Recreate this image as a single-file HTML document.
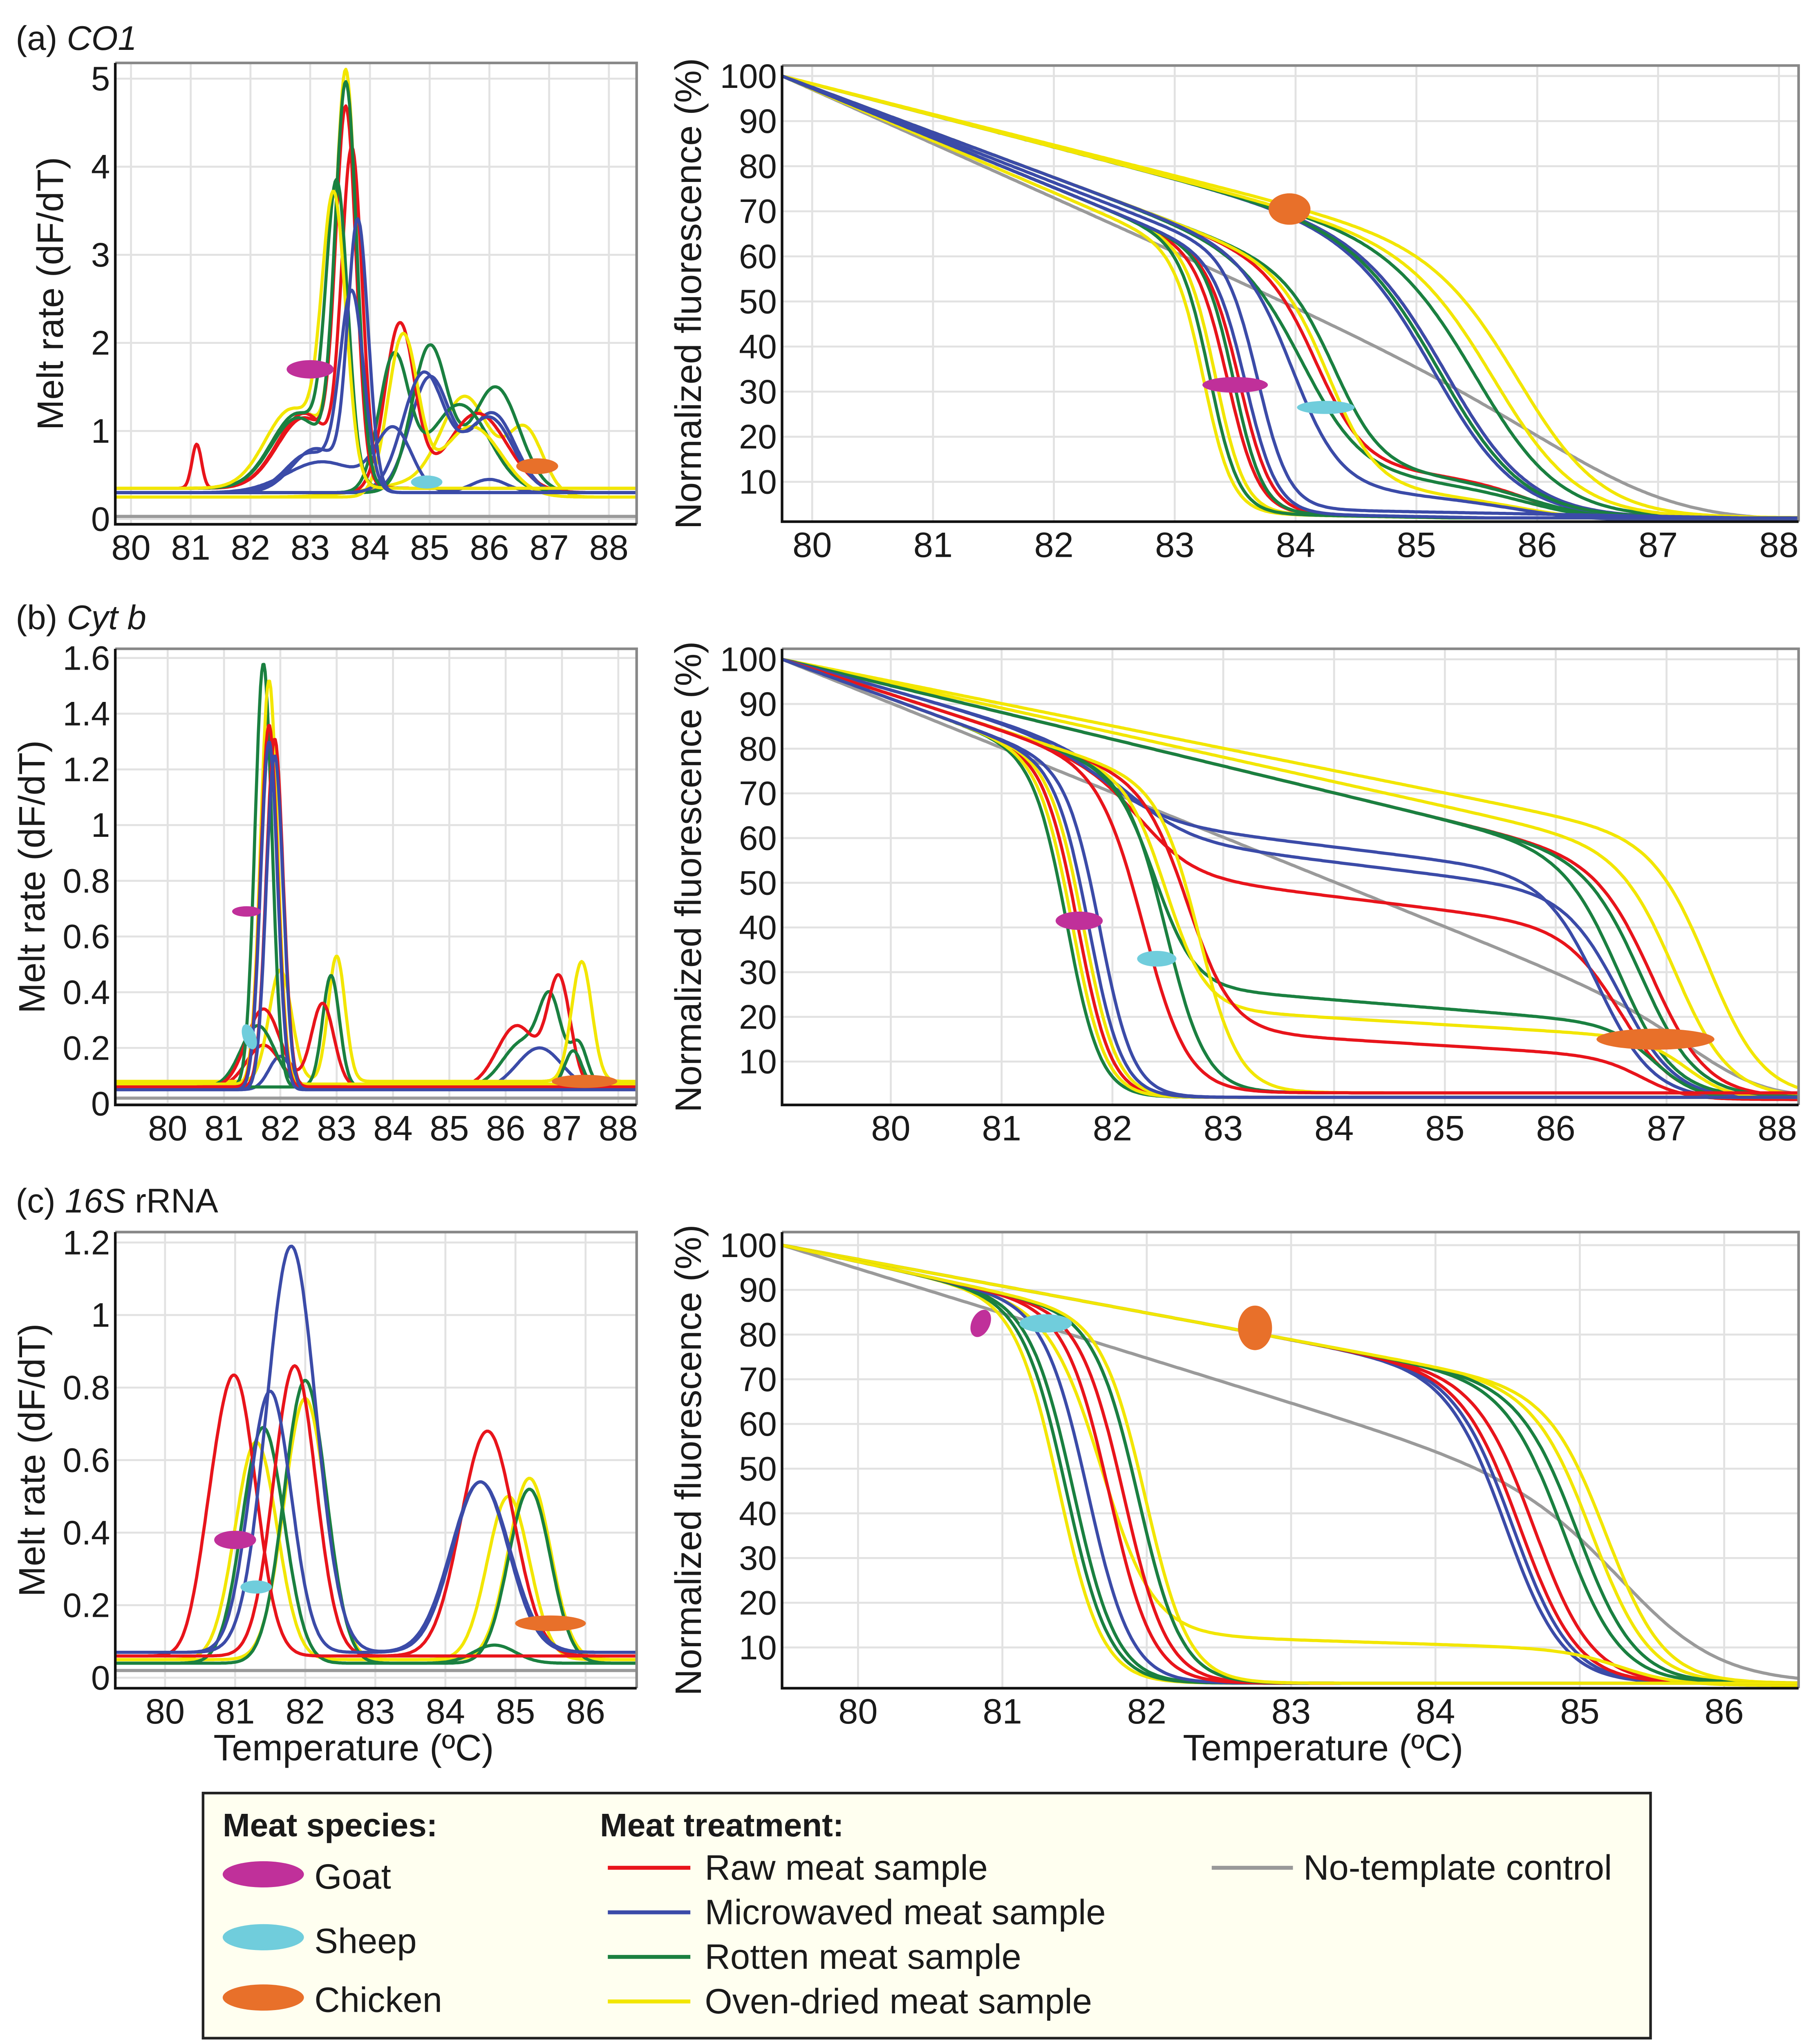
<!DOCTYPE html>
<html><head><meta charset="utf-8"><style>
html,body{margin:0;padding:0;background:#fff;width:4436px;height:5021px;overflow:hidden;}
svg{display:block;position:absolute;left:0;top:0;}
text{font-family:"Liberation Sans",Arial,sans-serif;fill:#1a1a1a;}
</style></head><body>
<svg id="fig" xmlns="http://www.w3.org/2000/svg" width="4436" height="5021" viewBox="0 0 1384 1566" preserveAspectRatio="none">
<defs id="defs"></defs>
<rect x="0" y="0" width="1384" height="1566" fill="#fff"/>
<g>
<rect x="155" y="1368" width="1105" height="187" fill="#fffff0" stroke="#222" stroke-width="2"/>
<text x="170" y="1401" font-size="25" font-weight="bold">Meat species:</text>
<ellipse cx="201" cy="1430" rx="31" ry="10" fill="#c0309a"/>
<text x="240" y="1441" font-size="27">Goat</text>
<ellipse cx="201" cy="1478" rx="31" ry="10" fill="#70cddc"/>
<text x="240" y="1490" font-size="27">Sheep</text>
<ellipse cx="201" cy="1524" rx="31" ry="10" fill="#e8702a"/>
<text x="240" y="1535" font-size="27">Chicken</text>
<text x="458" y="1401" font-size="25" font-weight="bold">Meat treatment:</text>
<line x1="464" y1="1425" x2="527" y2="1425" stroke="#e8141b" stroke-width="3"/>
<text x="538" y="1434" font-size="27">Raw meat sample</text>
<line x1="464" y1="1459" x2="527" y2="1459" stroke="#3b4ba8" stroke-width="3"/>
<text x="538" y="1468" font-size="27">Microwaved meat sample</text>
<line x1="464" y1="1493" x2="527" y2="1493" stroke="#1a8040" stroke-width="3"/>
<text x="538" y="1502" font-size="27">Rotten meat sample</text>
<line x1="464" y1="1527" x2="527" y2="1527" stroke="#f2e600" stroke-width="3"/>
<text x="538" y="1536" font-size="27">Oven-dried meat sample</text>
<line x1="925" y1="1425" x2="987" y2="1425" stroke="#999" stroke-width="3"/>
<text x="995" y="1434" font-size="27">No-template control</text>
</g>
<text x="12" y="38" font-size="26">(a) <tspan font-style="italic">CO1</tspan></text>
<text x="12" y="480" font-size="26">(b) <tspan font-style="italic">Cyt b</tspan></text>
<text x="12" y="925" font-size="26">(c) <tspan font-style="italic">16S</tspan> rRNA</text>
<text x="270" y="1343" font-size="28" text-anchor="middle">Temperature (ºC)</text>
<text x="1010" y="1343" font-size="28" text-anchor="middle">Temperature (ºC)</text>
</svg>
<script>
var COL={r:'#e8141b',b:'#3b4ba8',g:'#1a8040',y:'#f2e600',k:'#9a9a9a'};
// ---- melt-rate data: [color, baseline, peaks [T, height, sigma]]
var meltA=[
['k',0.03,[]],
['y',0.25,[[84.8,0.15,0.8],[85.6,1.05,0.4],[86.6,0.75,0.3]]],
['b',0.3,[[85.0,1.3,0.33],[86.05,0.9,0.38]]],
['g',0.3,[[85.0,1.65,0.3],[86.1,1.2,0.4]]],
['r',0.3,[[84.5,1.9,0.25],[85.8,0.9,0.5]]],
['g',0.3,[[84.4,1.5,0.25],[85.5,1.0,0.5]]],
['y',0.25,[[84.55,1.8,0.25],[85.7,0.8,0.5]]],
['b',0.3,[[84.9,1.35,0.35],[86.0,0.85,0.4]]],
['b',0.3,[[83.2,0.35,0.6],[84.4,0.7,0.3],[86.0,0.15,0.3]]],
['y',0.35,[[83.6,4.5,0.17],[82.9,0.85,0.45]]],
['r',0.35,[[83.6,4.1,0.17],[82.9,0.8,0.45],[81.1,0.5,0.08]]],
['r',0.35,[[83.7,3.7,0.17],[82.9,0.85,0.45]]],
['g',0.35,[[83.45,3.2,0.18],[82.8,0.85,0.45]]],
['g',0.35,[[83.6,4.45,0.18],[82.8,0.8,0.45]]],
['y',0.35,[[83.4,3.1,0.2],[82.7,0.9,0.45]]],
['b',0.3,[[83.8,3.0,0.17],[83.1,0.5,0.4]]],
['b',0.3,[[83.7,2.2,0.2],[83.0,0.45,0.4]]]
];
var meltB=[
['k',0.02,[]],
['b',0.05,[[86.6,0.15,0.4],[82.0,0.12,0.2]]],
['g',0.06,[[86.3,0.16,0.35],[86.8,0.28,0.2],[87.3,0.15,0.15]]],
['r',0.06,[[86.2,0.22,0.35],[86.95,0.38,0.2],[81.7,0.15,0.3]]],
['y',0.08,[[87.35,0.43,0.18],[82.0,0.4,0.2],[83.0,0.45,0.15]]],
['g',0.06,[[81.6,0.22,0.3],[82.9,0.4,0.15],[87.2,0.13,0.15]]],
['r',0.06,[[81.7,0.28,0.3],[82.75,0.3,0.2]]],
['g',0.06,[[81.7,1.52,0.15]]],
['y',0.07,[[81.8,1.45,0.15]]],
['r',0.06,[[81.8,1.3,0.15]]],
['r',0.06,[[81.9,1.25,0.15]]],
['b',0.05,[[81.8,1.25,0.15]]],
['b',0.05,[[81.9,1.2,0.15]]]
];
var meltC=[
['k',0.02,[]],
['y',0.05,[[85.2,0.5,0.3],[81.3,0.6,0.3]]],
['y',0.05,[[84.9,0.45,0.3],[82.0,0.72,0.3]]],
['g',0.04,[[85.2,0.48,0.3],[81.4,0.65,0.3]]],
['g',0.04,[[82.0,0.78,0.3],[84.7,0.05,0.3]]],
['r',0.06,[[84.6,0.62,0.38],[81.0,0.76,0.3],[80.6,0.1,0.2]]],
['r',0.06,[[81.85,0.8,0.3]]],
['b',0.07,[[84.5,0.47,0.4],[81.5,0.72,0.3]]],
['b',0.07,[[84.5,0.47,0.42],[81.8,1.12,0.35]]]
];
// ---- normalized-fluorescence data: [color, slope, Tm1, w1, plateau, plateauSlope, Tm2, w2]
var normA=[
['k',12,86.8,0.6,2,0,99,1],
['r',7,85.3,0.35,2,0,99,1],['b',7,85.2,0.35,2,0,99,1],['b',7,85.3,0.35,2,0,99,1],
['g',7,85.25,0.35,2,0,99,1],['g',7,85.55,0.35,2,0,99,1],['y',7,85.7,0.35,2,0,99,1],['y',6.8,85.9,0.35,2,0,99,1],
['r',10,84.2,0.2,14,2.5,86,0.25],['g',10,84.35,0.2,13,2,86,0.3],['g',10,84.1,0.25,12,2,86,0.3],
['y',10,84.3,0.2,9,2,86,0.3],['b',10,84.0,0.2,9,2,86,0.3],
['r',11,83.45,0.13,3,0.5,99,1],['r',11,83.55,0.13,3,0.5,99,1],['y',11.5,83.25,0.12,3,0.5,99,1],
['y',11,83.35,0.12,3,0.5,99,1],['g',11,83.3,0.12,3,0.5,99,1],['g',11,83.5,0.12,3,0.5,99,1],
['b',11,83.6,0.13,3,0.5,99,1],['b',10.5,83.7,0.13,4,0.5,99,1]
];
var normB=[
['k',10,87.5,0.35,2,0,99,1],
['g',6,86.6,0.25,2,0,99,1],['r',6,86.9,0.25,2,0,99,1],['y',5.5,87.1,0.25,2,0,99,1],
['y',5,87.4,0.25,2,0,99,1],['g',6,86.8,0.25,2,0,99,1],
['r',8,82.3,0.25,52,3,86.6,0.25],['b',7,82.0,0.3,64,3,86.4,0.25],['b',7,82.2,0.3,60,3,86.6,0.25],
['g',8,82.4,0.18,27,2,86.9,0.2],['y',8,82.5,0.18,22,1.5,87.2,0.2],['r',8,82.7,0.2,17,1.5,86.8,0.2],
['g',8,82.5,0.18,3,0,99,1],['y',8,82.8,0.18,3,0,99,1],['r',8,82.3,0.2,3,0,99,1],
['g',9,81.6,0.15,2,0,99,1],['r',9,81.7,0.15,2,0,99,1],['y',9,81.75,0.15,2,0,99,1],
['y',9,81.65,0.15,2,0,99,1],['b',9,81.8,0.15,2,0,99,1],['b',9,81.9,0.15,2,0,99,1]
];
var normC=[
['k',10,85.4,0.35,2,0,99,1],
['b',6,84.5,0.2,2,0,99,1],['b',6,84.55,0.2,2,0,99,1],['r',6,84.6,0.2,2,0,99,1],['r',6,84.7,0.2,2,0,99,1],
['g',6,84.9,0.2,2,0,99,1],['y',6,85.1,0.2,2,0,99,1],['g',6,85.0,0.2,2,0,99,1],['y',6,85.2,0.2,2,0,99,1],
['y',7,81.7,0.18,13,1,85.3,0.2],
['y',7,81.4,0.15,2,0,99,1],['g',7,81.45,0.15,2,0,99,1],['g',7,81.5,0.15,2,0,99,1],['b',7,81.6,0.15,2,0,99,1],
['r',7,81.75,0.15,2,0,99,1],['r',7,81.85,0.15,2,0,99,1],['b',7,81.95,0.15,2,0,99,1],['g',7,81.95,0.15,2,0,99,1],['y',7,82.0,0.15,2,0,99,1]
];
var xTicksA=[80,81,82,83,84,85,86,87,88];
var xTicksC=[80,81,82,83,84,85,86];
var yTicksMeltA=[0,1,2,3,4,5];
var yTicksMeltB=[0,0.2,0.4,0.6,0.8,1,1.2,1.4,1.6];
var yTicksMeltC=[0,0.2,0.4,0.6,0.8,1,1.2];
var yTicksNorm=[10,20,30,40,50,60,70,80,90,100];
// markers: [species, T, value, rx, ry, rotate]
var markA1=[['goat',83.0,1.7,18,7,0],['sheep',84.95,0.42,12,5,0],['chicken',86.8,0.6,16,6,0]];
var markA2=[['chicken',83.95,70.5,16,12,0],['goat',83.5,31.5,25,6,0],['sheep',84.25,26.5,22,5,0]];
var markB1=[['goat',81.4,0.69,11,4,0],['sheep',81.45,0.24,5,10,-20],['chicken',87.4,0.08,25,5,0]];
var markB2=[['goat',81.7,41.5,18,7,0],['sheep',82.4,33,15,6,0],['chicken',86.9,15,45,8,0]];
var markC1=[['goat',81.0,0.38,16,7,0],['sheep',81.3,0.25,12,5,0],['chicken',85.5,0.15,27,6,0]];
var markC2=[['goat',80.85,82.5,7,11,25],['sheep',81.3,82.5,20,7,0],['chicken',82.75,81.5,13,17,0]];

var SPC={goat:'#c0309a',sheep:'#70cddc',chicken:'#e8702a'};
var NS='http://www.w3.org/2000/svg';
var svg=document.getElementById('fig');
var defs=document.getElementById('defs');
function mk(tag,at,par){var e=document.createElementNS(NS,tag);for(var k in at)e.setAttribute(k,at[k]);(par||svg).appendChild(e);return e;}
function sg(T,m,w){return 1/(1+Math.exp((T-m)/w));}
function meltVal(c,T){var v=c[1];c[2].forEach(function(p){v+=p[1]*Math.exp(-0.5*Math.pow((T-p[0])/p[2],2));});return v;}
function normVal(c,T,T0){var line=100-c[1]*(T-T0);var s1=sg(T,c[2],c[3]);var s2=sg(T,c[6],c[7]);
 var pl=Math.max(2,c[4]-c[5]*(T-c[2]));var plat=pl*s2+1.5*(1-s2);return line*s1+plat*(1-s1);}
function panel(id,P,curves,kind,xt,yt,ylab,title,marks){
 var fx0=P.fx0,fx1=P.fx1,fy0=P.fy0,fy1=P.fy1;
 function X(T){return P.x0+(T-P.xv0)*P.xs;}
 function Y(v){return P.y0-(v-P.yv0)*P.ys;}
 var Tmin=P.xv0+(fx0-P.x0)/P.xs,Tmax=P.xv0+(fx1-P.x0)/P.xs;
 var g=mk('g',{});
 
 
 var cp=mk('clipPath',{id:'clip-'+id},defs);mk('rect',{x:fx0,y:fy0,width:fx1-fx0,height:fy1-fy0},cp);
 var gg=mk('g',{},g);
 
 
 xt.forEach(function(t){var l=mk('line',{x1:X(t),x2:X(t),y1:fy0,y2:fy1,stroke:'#e2e2e2','stroke-width':1.5},gg);
  
  
  var tx=mk('text',{x:X(t),y:fy1+27,'font-size':27,'text-anchor':'middle'},g);tx.textContent=t;
  
  });
 yt.forEach(function(t){var l=mk('line',{x1:fx0,x2:fx1,y1:Y(t),y2:Y(t),stroke:'#e2e2e2','stroke-width':1.5},gg);
  
  
  var tx=mk('text',{x:fx0-4,y:Y(t)+9,'font-size':26,'text-anchor':'end'},g);tx.textContent=t;
  
  });
 var cg=mk('g',{'clip-path':'url(#clip-'+id+')'},g);
 
 
 curves.forEach(function(c,i){var d='';for(var T=Tmin;T<=Tmax+0.02;T+=0.02){var v=kind=='melt'?meltVal(c,T):normVal(c,T,Tmin);
   d+=(d?'L':'M')+X(T).toFixed(1)+','+Y(v).toFixed(1);}
  var p=mk('path',{d:d,fill:'none',stroke:COL[c[0]],'stroke-width':2.4,'stroke-linejoin':'round'},cg);
  
  });
 marks.forEach(function(m){var e=mk('ellipse',{cx:X(m[1]),cy:Y(m[2]),rx:m[3],ry:m[4],fill:SPC[m[0]],transform:'rotate('+m[5]+' '+X(m[1])+' '+Y(m[2])+')'},g);
  
  });
 var fr=mk('path',{d:'M'+fx0+','+fy0+'H'+fx1+'V'+fy1,fill:'none',stroke:'#888','stroke-width':2},g);
 
 
 var ax=mk('path',{d:'M'+fx0+','+fy0+'V'+fy1+'H'+fx1,fill:'none',stroke:'#111','stroke-width':2},g);
 
 
 var yl=mk('text',{x:0,y:0,'font-size':28,'text-anchor':'middle',transform:'translate('+ylab+','+((fy0+fy1)/2)+') rotate(-90)'},g);
 yl.textContent=title;
 
 
}
panel('a-melt',{fx0:88,fx1:486,fy0:48,fy1:400,x0:100,xv0:80,xs:45.6,y0:396,yv0:0,ys:67.2},meltA,'melt',xTicksA,yTicksMeltA,48,'Melt rate (dF/dT)',markA1);
panel('a-norm',{fx0:597,fx1:1373,fy0:50,fy1:398,x0:620,xv0:80,xs:92.25,y0:402,yv0:0,ys:3.44},normA,'norm',xTicksA,yTicksNorm,535,'Normalized fluorescence (%)',markA2);
panel('b-melt',{fx0:88,fx1:486,fy0:495,fy1:843,x0:128,xv0:80,xs:43,y0:842,yv0:0,ys:212.5},meltB,'melt',xTicksA,yTicksMeltB,34,'Melt rate (dF/dT)',markB1);
panel('b-norm',{fx0:597,fx1:1373,fy0:495,fy1:843,x0:680,xv0:80,xs:84.6,y0:844,yv0:0,ys:3.41},normB,'norm',xTicksA,yTicksNorm,535,'Normalized fluorescence (%)',markB2);
panel('c-melt',{fx0:88,fx1:486,fy0:940,fy1:1288,x0:126,xv0:80,xs:53.5,y0:1280,yv0:0,ys:276.7},meltC,'melt',xTicksC,yTicksMeltC,34,'Melt rate (dF/dT)',markC1);
panel('c-norm',{fx0:597,fx1:1373,fy0:940,fy1:1288,x0:655,xv0:80,xs:110.2,y0:1291,yv0:0,ys:3.41},normC,'norm',xTicksC,yTicksNorm,535,'Normalized fluorescence (%)',markC2);
</script>
</body></html>
